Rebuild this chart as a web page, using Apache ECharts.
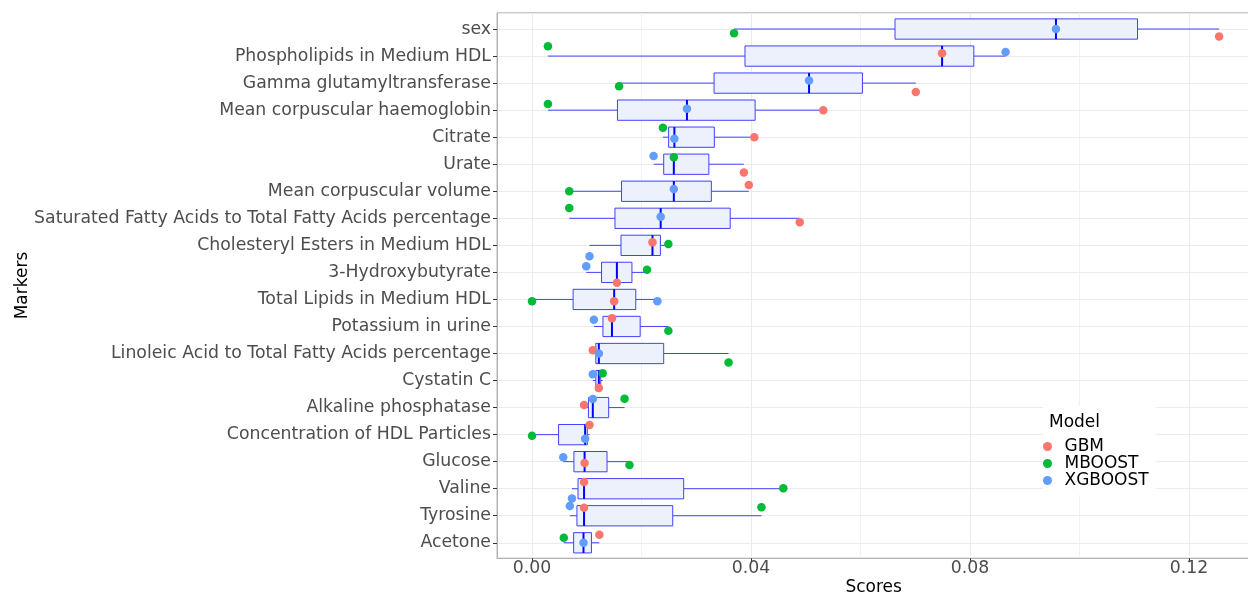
<!DOCTYPE html>
<html><head><meta charset="utf-8">
<script src="https://cdn.jsdelivr.net/npm/echarts@6/dist/echarts.min.js"></script>
<style>html,body{margin:0;padding:0;background:#fff}#c{width:1248px;height:596px}</style>
</head><body><div id="c"></div>
<script>
const categories = [
  'sex',
  'Phospholipids in Medium HDL',
  'Gamma glutamyltransferase',
  'Mean corpuscular haemoglobin',
  'Citrate',
  'Urate',
  'Mean corpuscular volume',
  'Saturated Fatty Acids to Total Fatty Acids percentage',
  'Cholesteryl Esters in Medium HDL',
  '3-Hydroxybutyrate',
  'Total Lipids in Medium HDL',
  'Potassium in urine',
  'Linoleic Acid to Total Fatty Acids percentage',
  'Cystatin C',
  'Alkaline phosphatase',
  'Concentration of HDL Particles',
  'Glucose',
  'Valine',
  'Tyrosine',
  'Acetone'
];
const models = ['GBM', 'MBOOST', 'XGBOOST'];
const gbm     = [0.1255, 0.0749, 0.0701, 0.0532, 0.0406, 0.0387, 0.0396, 0.0489, 0.0220, 0.0155, 0.0150, 0.0146, 0.0111, 0.0122, 0.0095, 0.0105, 0.0096, 0.0095, 0.0095, 0.0123];
const mboost  = [0.0369, 0.0029, 0.0159, 0.0029, 0.0239, 0.0259, 0.0068, 0.0068, 0.0249, 0.0210, 0.0000, 0.0249, 0.0359, 0.0129, 0.0169, 0.0000, 0.0178, 0.0459, 0.0419, 0.0058];
const xgboost = [0.0957, 0.0865, 0.0506, 0.0283, 0.0260, 0.0222, 0.0259, 0.0235, 0.0105, 0.0099, 0.0229, 0.0113, 0.0122, 0.0111, 0.0111, 0.0097, 0.0057, 0.0073, 0.0069, 0.0094];
// vertical jitter of each point (in category units, positive = downward)
const gbmJitter     = [0.28, -0.10, 0.33, 0.00, 0.00, 0.31, -0.23, 0.15, -0.11, 0.38, 0.07, -0.30, -0.12, 0.28, -0.10, -0.36, 0.05, -0.25, -0.30, -0.30];
const mboostJitter  = [0.16, -0.36, 0.12, -0.23, -0.35, -0.26, 0.00, -0.38, -0.05, -0.10, 0.07, 0.16, 0.33, -0.27, -0.33, 0.04, 0.12, -0.02, -0.31, -0.19];
const xgboostJitter = [0.00, -0.15, -0.10, -0.05, 0.06, -0.30, -0.08, -0.06, 0.40, -0.23, 0.07, -0.25, 0.00, -0.23, -0.32, 0.15, -0.16, 0.36, -0.36, 0.00];
const xTicks = [0, 0.04, 0.08, 0.12];
const xMinorTicks = [0.02, 0.06, 0.10];
const colors = { GBM: '#F8766D', MBOOST: '#00BA38', XGBOOST: '#619CFF' };

const FONT = 'DejaVu Sans';

function boxStats(i) {
  const v = [gbm[i], mboost[i], xgboost[i]].sort((a, b) => a - b);
  return [i, v[0], (v[0] + v[1]) / 2, v[1], (v[1] + v[2]) / 2, v[2]];
}
const boxData = categories.map((c, i) => boxStats(i));

function pts(vals, jit) { return vals.map((v, i) => [v, i + jit[i]]); }

function renderBox(params, api) {
  const y = api.value(0);
  const mn = api.value(1), q1 = api.value(2), md = api.value(3), q3 = api.value(4), mx = api.value(5);
  const half = 0.375;
  const pMin = api.coord([mn, y]), pQ1 = api.coord([q1, y]), pMd = api.coord([md, y]), pQ3 = api.coord([q3, y]), pMx = api.coord([mx, y]);
  const a = api.coord([q1, y - half])[1], b = api.coord([q1, y + half])[1];
  const y0 = Math.min(a, b), h = Math.abs(b - a);
  const ls = { stroke: '#4040ff', lineWidth: 1, fill: null };
  return { type: 'group', children: [
    { type: 'line', shape: { x1: pMin[0], y1: pMin[1], x2: pQ1[0], y2: pQ1[1] }, style: ls },
    { type: 'line', shape: { x1: pQ3[0], y1: pQ3[1], x2: pMx[0], y2: pMx[1] }, style: ls },
    { type: 'rect', shape: { x: pQ1[0], y: y0, width: pQ3[0] - pQ1[0], height: h }, style: { fill: '#EDF1FB', stroke: '#4040ff', lineWidth: 1 } },
    { type: 'line', shape: { x1: pMd[0], y1: y0, x2: pMd[0], y2: y0 + h }, style: { stroke: '#0000ff', lineWidth: 2 } }
  ]};
}

const gridLines = [].concat(
  xMinorTicks.map(v => ({ xAxis: v, lineStyle: { color: '#F2F2F2', width: 1, type: 'solid' } })),
  xTicks.map(v => ({ xAxis: v, lineStyle: { color: '#EBEBEB', width: 1, type: 'solid' } })),
  categories.map((c, i) => ({ yAxis: i, lineStyle: { color: '#EBEBEB', width: 1, type: 'solid' } }))
);

const chart = echarts.init(document.getElementById('c'), null, { renderer: 'canvas' });
chart.setOption({
  animation: false,
  backgroundColor: '#fff',
  textStyle: { fontFamily: FONT },
  grid: { left: 497, top: 12.8, width: 753.3, height: 545.4, show: true, borderColor: '#B3B3B3', borderWidth: 1, containLabel: false, outerBoundsMode: 'none' },
  title: { text: 'Model', left: 1049, top: 414, textStyle: { fontFamily: FONT, fontSize: 17, fontWeight: 'normal', color: '#000' }, padding: 0, z: 10 },
  legend: {
    data: models, orient: 'vertical', left: 1043, top: 406,
    padding: [32, 8, 6, 0], itemGap: 0, itemWidth: 24, itemHeight: 9, icon: 'circle',
    backgroundColor: '#fff', z: 8,
    textStyle: { fontFamily: FONT, fontSize: 17, color: '#000', lineHeight: 16.7 },
    selectedMode: false
  },
  xAxis: {
    type: 'value', min: -0.0064, max: 0.1312,
    name: 'Scores', nameLocation: 'middle', nameGap: 21, nameMoveOverlap: false,
    nameTextStyle: { fontFamily: FONT, fontSize: 17, color: '#000' },
    axisLine: { show: true, onZero: false, lineStyle: { color: '#B3B3B3', width: 1 } },
    axisTick: { show: true, length: 4, customValues: xTicks, lineStyle: { color: '#333' } },
    axisLabel: { customValues: xTicks, margin: 2, fontFamily: FONT, fontSize: 17.3, color: '#4D4D4D', formatter: v => v.toFixed(2) },
    splitLine: { show: false }
  },
  yAxis: {
    type: 'value', inverse: true, min: -0.6, max: 19.57,
    name: 'Markers', nameLocation: 'middle', nameGap: 466, nameRotate: 90, nameMoveOverlap: false,
    nameTextStyle: { fontFamily: FONT, fontSize: 17, color: '#000' },
    axisLine: { show: true, onZero: false, lineStyle: { color: '#B3B3B3', width: 1 } },
    axisTick: { show: true, length: 4, customValues: categories.map((c, i) => i), lineStyle: { color: '#333' } },
    axisLabel: { customValues: categories.map((c, i) => i), margin: 6, fontFamily: FONT, fontSize: 17.3, color: '#4D4D4D', formatter: v => categories[Math.round(v)] },
    splitLine: { show: false }
  },
  series: [
    { type: 'scatter', name: '_grid', data: [], silent: true, z: 0,
      markLine: { z: 0, silent: true, symbol: ['none', 'none'], label: { show: false }, animation: false, emphasis: { disabled: true }, data: gridLines } },
    { type: 'custom', name: 'box', data: boxData, renderItem: renderBox, silent: true, z: 2,
      encode: { x: [1, 2, 3, 4, 5], y: 0 } },
    { type: 'scatter', name: 'GBM', data: pts(gbm, gbmJitter), symbolSize: 8.5, itemStyle: { color: colors.GBM, opacity: 1 }, z: 3, emphasis: { disabled: true } },
    { type: 'scatter', name: 'MBOOST', data: pts(mboost, mboostJitter), symbolSize: 8.5, itemStyle: { color: colors.MBOOST, opacity: 1 }, z: 3, emphasis: { disabled: true } },
    { type: 'scatter', name: 'XGBOOST', data: pts(xgboost, xgboostJitter), symbolSize: 8.5, itemStyle: { color: colors.XGBOOST, opacity: 1 }, z: 3, emphasis: { disabled: true } }
  ]
});
</script></body></html>
